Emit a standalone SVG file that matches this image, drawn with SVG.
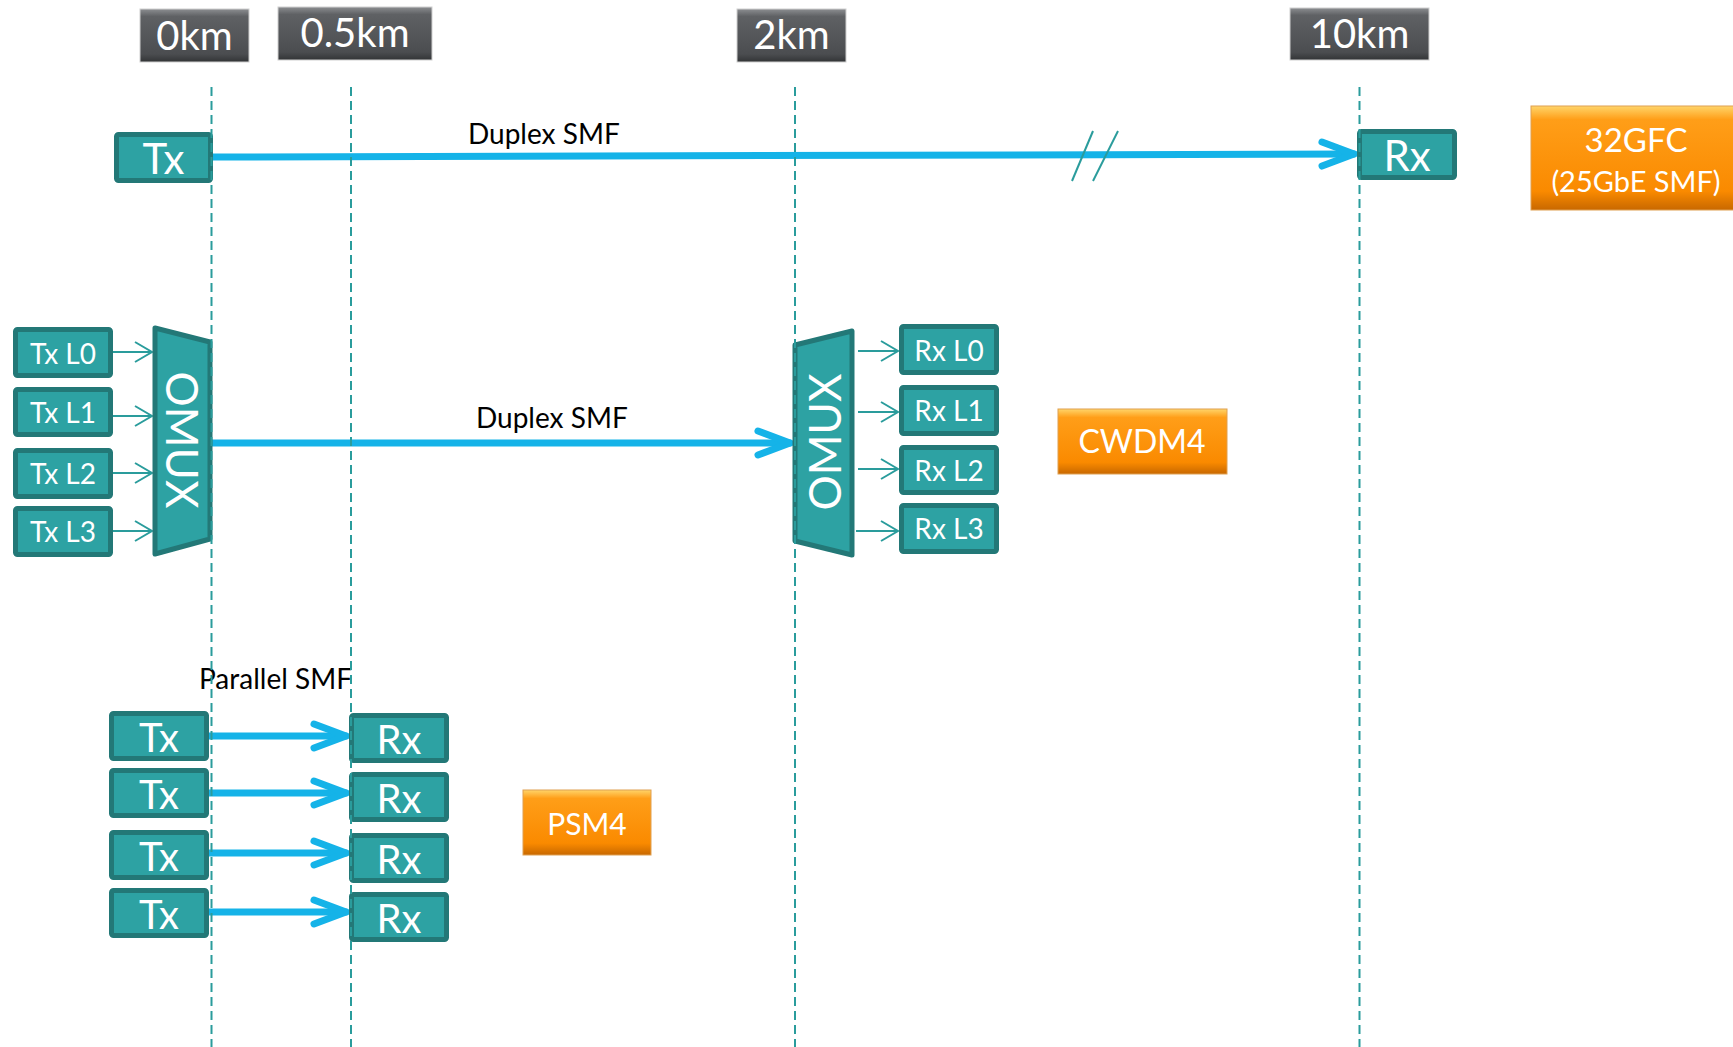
<svg xmlns="http://www.w3.org/2000/svg" width="1733" height="1047" viewBox="0 0 1733 1047">
<style>
.bg{fill:#ffffff}
.tl{fill:#2DA2A3;stroke:#237877;stroke-width:5;stroke-linejoin:round}
.wt{fill:#ffffff;font-family:Lato,"Open Sans","Liberation Sans",sans-serif;text-anchor:middle}
.lbl{fill:#000000;font-family:Lato,"Open Sans","Liberation Sans",sans-serif;font-size:28px}
.gray{fill:url(#gg);stroke:#d0d0d0;stroke-width:1}
.org{fill:url(#og);stroke:#e0a050;stroke-width:1}
.blue{stroke:#15B3E8;stroke-width:7;fill:none;stroke-linecap:round}
.thin{stroke:#2A9C9C;stroke-width:2;fill:none}
.guide{stroke:#2A9C9C;stroke-width:2;stroke-dasharray:9 5;fill:none}
</style>
<defs>
<linearGradient id="gg" x1="0" y1="0" x2="0" y2="1">
<stop offset="0" stop-color="#8c8e91"/>
<stop offset="0.14" stop-color="#5f6164"/>
<stop offset="0.85" stop-color="#4b4d50"/>
<stop offset="1" stop-color="#323436"/>
</linearGradient>
<linearGradient id="og" x1="0" y1="0" x2="0" y2="1">
<stop offset="0" stop-color="#FFD56A"/>
<stop offset="0.13" stop-color="#FF9E18"/>
<stop offset="0.82" stop-color="#FA8A00"/>
<stop offset="1" stop-color="#C86800"/>
</linearGradient>
<marker id="bh" markerUnits="userSpaceOnUse" orient="auto" overflow="visible" refX="0" refY="0" markerWidth="1" markerHeight="1">
<path d="M-32,-12 L0,0 L-32,12" stroke="#15B3E8" stroke-width="7" fill="none" stroke-linecap="round" stroke-linejoin="round"/>
</marker>
<marker id="th" markerUnits="userSpaceOnUse" orient="auto" overflow="visible" refX="0" refY="0" markerWidth="1" markerHeight="1">
<path d="M-17,-10 L0,0 L-17,10" stroke="#2A9C9C" stroke-width="2" fill="none"/>
</marker>
</defs>
<rect class="bg" x="0" y="0" width="1733" height="1047"/>

<g id="scale-labels">
<g id="d0"><rect class="gray" x="140" y="9" width="109" height="53"/><text class="wt" x="194.5" y="50" font-size="40">0km</text></g>
<g id="d05"><rect class="gray" x="278" y="7" width="154" height="53"/><text class="wt" x="355" y="47" font-size="40">0.5km</text></g>
<g id="d2"><rect class="gray" x="737" y="9" width="109" height="53"/><text class="wt" x="791.5" y="49" font-size="40">2km</text></g>
<g id="d10"><rect class="gray" x="1290" y="8" width="139" height="52"/><text class="wt" x="1359.5" y="48" font-size="40">10km</text></g>
</g>

<g id="connectors">
<line class="blue" x1="213" y1="157" x2="1354" y2="154" marker-end="url(#bh)"/>
<line class="thin" x1="1072" y1="181" x2="1093" y2="131"/>
<line class="thin" x1="1093" y1="181" x2="1118" y2="131"/>
<line class="blue" x1="212" y1="443" x2="790" y2="443" marker-end="url(#bh)"/>
<line class="thin" x1="113" y1="352" x2="152" y2="352" marker-end="url(#th)"/>
<line class="thin" x1="113" y1="416" x2="152" y2="416" marker-end="url(#th)"/>
<line class="thin" x1="113" y1="473" x2="152" y2="473" marker-end="url(#th)"/>
<line class="thin" x1="113" y1="531" x2="152" y2="531" marker-end="url(#th)"/>
<line class="thin" x1="858" y1="351" x2="898" y2="351" marker-end="url(#th)"/>
<line class="thin" x1="858" y1="412" x2="898" y2="412" marker-end="url(#th)"/>
<line class="thin" x1="858" y1="469" x2="898" y2="469" marker-end="url(#th)"/>
<line class="thin" x1="856" y1="531" x2="898" y2="531" marker-end="url(#th)"/>
<line class="blue" x1="209" y1="736" x2="346" y2="736" marker-end="url(#bh)"/>
<line class="blue" x1="209" y1="793" x2="346" y2="793" marker-end="url(#bh)"/>
<line class="blue" x1="209" y1="853" x2="346" y2="853" marker-end="url(#bh)"/>
<line class="blue" x1="209" y1="912" x2="346" y2="912" marker-end="url(#bh)"/>
<text class="lbl" x="468" y="144">Duplex SMF</text>
<text class="lbl" x="476" y="428">Duplex SMF</text>
<text class="lbl" x="199" y="689" font-size="29">Parallel SMF</text>
</g>

<g id="tx-10km"><rect class="tl" x="116.5" y="134.5" width="94" height="46" rx="2"/><text class="wt" x="163.5" y="174" font-size="42">Tx</text></g>
<g id="rx-10km"><rect class="tl" x="1359.5" y="131.5" width="95" height="46" rx="2"/><text class="wt" x="1407" y="171" font-size="42">Rx</text></g>
<g id="std-32gfc"><rect class="org" x="1531" y="106" width="212" height="104"/><text class="wt" x="1636" y="152" font-size="33">32GFC</text><text class="wt" x="1636" y="192" font-size="29">(25GbE SMF)</text></g>

<g id="tx-l0"><rect class="tl" x="15.5" y="329.5" width="95" height="46" rx="2"/><text class="wt" x="63" y="364" font-size="28">Tx L0</text></g>
<g id="tx-l1"><rect class="tl" x="15.5" y="389.5" width="95" height="45" rx="2"/><text class="wt" x="63" y="423" font-size="28">Tx L1</text></g>
<g id="tx-l2"><rect class="tl" x="15.5" y="450.5" width="95" height="46" rx="2"/><text class="wt" x="63" y="484" font-size="28">Tx L2</text></g>
<g id="tx-l3"><rect class="tl" x="15.5" y="508.5" width="95" height="46" rx="2"/><text class="wt" x="63" y="542" font-size="28">Tx L3</text></g>
<g id="omux-tx"><polygon class="tl" points="155,328 210,342 210,539 155,554"/><text class="wt" font-size="44" transform="translate(166,440) rotate(90)">OMUX</text></g>
<g id="omux-rx"><polygon class="tl" points="795,345 852,331 852,555 795,541"/><text class="wt" font-size="44" transform="translate(841,442) rotate(-90)">OMUX</text></g>
<g id="rx-l0"><rect class="tl" x="901.5" y="326.5" width="95" height="46" rx="2"/><text class="wt" x="949" y="361" font-size="28">Rx L0</text></g>
<g id="rx-l1"><rect class="tl" x="901.5" y="387.5" width="95" height="46" rx="2"/><text class="wt" x="949" y="421" font-size="28">Rx L1</text></g>
<g id="rx-l2"><rect class="tl" x="901.5" y="447.5" width="95" height="45" rx="2"/><text class="wt" x="949" y="481" font-size="28">Rx L2</text></g>
<g id="rx-l3"><rect class="tl" x="901.5" y="505.5" width="95" height="46" rx="2"/><text class="wt" x="949" y="539" font-size="28">Rx L3</text></g>
<g id="std-cwdm4"><rect class="org" x="1058" y="409" width="169" height="65"/><text class="wt" x="1142" y="453" font-size="32">CWDM4</text></g>

<g id="psm-tx0"><rect class="tl" x="111.5" y="713.5" width="95" height="45" rx="2"/><text class="wt" x="159" y="752" font-size="40">Tx</text></g>
<g id="psm-tx1"><rect class="tl" x="111.5" y="770.5" width="95" height="45" rx="2"/><text class="wt" x="159" y="809" font-size="40">Tx</text></g>
<g id="psm-tx2"><rect class="tl" x="111.5" y="832.5" width="95" height="45" rx="2"/><text class="wt" x="159" y="871" font-size="40">Tx</text></g>
<g id="psm-tx3"><rect class="tl" x="111.5" y="890.5" width="95" height="45" rx="2"/><text class="wt" x="159" y="929" font-size="40">Tx</text></g>
<g id="psm-rx0"><rect class="tl" x="351.5" y="715.5" width="95" height="45" rx="2"/><text class="wt" x="399" y="754" font-size="40">Rx</text></g>
<g id="psm-rx1"><rect class="tl" x="351.5" y="774.5" width="95" height="45" rx="2"/><text class="wt" x="399" y="813" font-size="40">Rx</text></g>
<g id="psm-rx2"><rect class="tl" x="351.5" y="835.5" width="95" height="45" rx="2"/><text class="wt" x="399" y="874" font-size="40">Rx</text></g>
<g id="psm-rx3"><rect class="tl" x="351.5" y="894.5" width="95" height="45" rx="2"/><text class="wt" x="399" y="933" font-size="40">Rx</text></g>
<g id="std-psm4"><rect class="org" x="523" y="790" width="128" height="65"/><text class="wt" x="587" y="835" font-size="30">PSM4</text></g>

<g id="guides">
<line class="guide" x1="211.5" y1="87" x2="211.5" y2="1047"/>
<line class="guide" x1="351" y1="87" x2="351" y2="1047"/>
<line class="guide" x1="795" y1="87" x2="795" y2="1047"/>
<line class="guide" x1="1359.5" y1="87" x2="1359.5" y2="1047"/>
</g>
</svg>
